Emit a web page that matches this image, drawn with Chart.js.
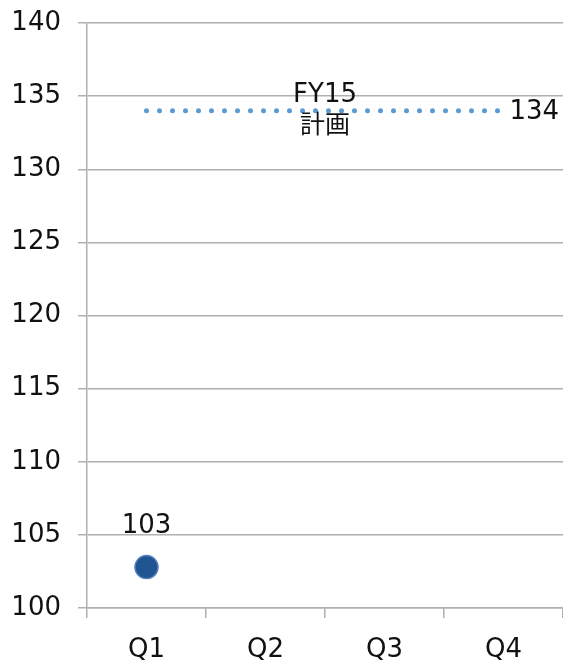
<!DOCTYPE html>
<html>
<head>
<meta charset="utf-8">
<script src="https://cdn.jsdelivr.net/npm/chart.js@4/dist/chart.umd.min.js"></script>
<style>
  html, body { margin: 0; padding: 0; background: #fff; overflow: hidden; }
  #wrap { width: 563px; height: 661px; position: relative; }
  canvas { display: block; }
</style>
</head>
<body>
<div id="wrap"><canvas id="c"></canvas></div>
<script>
// Quarterly results against the FY15 plan
const quarters = ['Q1', 'Q2', 'Q3', 'Q4'];
const actual = [102.8, null, null, null];
const plan = [134, 134, 134, 134];
const planLabel = ['FY15', '計画'];
const yTicks = { min: 100, max: 140, step: 5 };

const FONT = '"DejaVu Sans", Verdana, sans-serif';
const CJK = '"DejaVu Sans", "Noto Sans CJK JP", sans-serif';
const GRID = '#b0b0b0';
const TEXT = '#111111';

// Value labels: actual point, plan end value and plan caption
const labelPlugin = {
  id: 'labels',
  afterDatasetsDraw(chart) {
    const { ctx, scales: { x, y } } = chart;
    ctx.save();
    ctx.fillStyle = TEXT;
    ctx.font = '26px ' + FONT;
    // actual value above the marker
    actual.forEach((v, i) => {
      if (v == null) return;
      ctx.textAlign = 'center';
      ctx.textBaseline = 'middle';
      ctx.fillText(Math.round(v).toString(), x.getPixelForValue(i), y.getPixelForValue(v) - 41);
    });
    // plan value right of the line end
    const last = plan.length - 1;
    ctx.textAlign = 'left';
    ctx.textBaseline = 'middle';
    ctx.fillText(String(plan[last]), x.getPixelForValue(last) + 6, y.getPixelForValue(plan[last]) + 1);
    // plan caption in the middle of the line
    const cx = (x.getPixelForValue(1) + x.getPixelForValue(2)) / 2;
    const cy = y.getPixelForValue(plan[1]);
    ctx.textAlign = 'center';
    ctx.font = '26px ' + CJK;
    ctx.fillText(planLabel[0], cx, cy - 16);
    ctx.font = '25px ' + CJK;
    ctx.fillText(planLabel[1], cx, cy + 16);
    ctx.restore();
  }
};

new Chart(document.getElementById('c'), {
  type: 'line',
  data: {
    labels: quarters,
    datasets: [
      {
        label: 'FY15 計画',
        data: plan,
        borderColor: '#5B9BD5',
        borderWidth: 5,
        borderDash: [0, 13],
        borderCapStyle: 'round',
        pointRadius: 0,
        fill: false,
        order: 2
      },
      {
        label: 'Actual',
        data: actual,
        showLine: false,
        pointRadius: 11.5,
        pointBackgroundColor: '#215591',
        pointBorderColor: '#4f7fbf',
        pointBorderWidth: 1.5,
        order: 1
      }
    ]
  },
  options: {
    responsive: true,
    maintainAspectRatio: false,
    animation: false,
    layout: { autoPadding: false, padding: { top: 23, right: 0, bottom: 0, left: 0 } },
    plugins: { legend: { display: false }, tooltip: { enabled: false } },
    scales: {
      x: {
        offset: true,
        grid: { offset: true, drawOnChartArea: false, color: GRID, tickLength: 10, lineWidth: 1.5 },
        border: { display: true, color: GRID, width: 1.5 },
        ticks: { color: TEXT, font: { family: FONT, size: 26 }, padding: 17, maxRotation: 0 },
        afterFit(s) { s.height = 53; s.paddingLeft = 0; s.paddingRight = 0; }
      },
      y: {
        min: yTicks.min,
        max: yTicks.max,
        grid: { color: GRID, tickLength: 9, lineWidth: 1.5 },
        border: { display: true, color: GRID, width: 1.5 },
        ticks: { stepSize: yTicks.step, color: TEXT, font: { family: FONT, size: 26 }, padding: 17 },
        afterFit(s) { s.width = 87; s.paddingTop = 0; s.paddingBottom = 0; }
      }
    }
  },
  plugins: [labelPlugin]
});
</script>
</body>
</html>
